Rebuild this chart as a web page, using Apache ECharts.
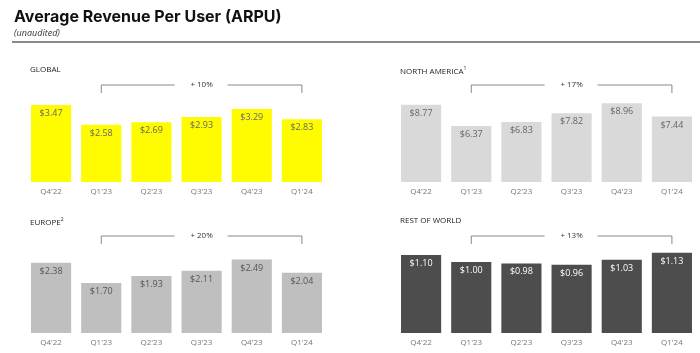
<!DOCTYPE html>
<html>
<head>
<meta charset="utf-8">
<script src="https://cdn.jsdelivr.net/npm/echarts@6/dist/echarts.min.js"></script>
<style>
  html, body { margin: 0; padding: 0; background: #fff; }
  #main { width: 700px; height: 353px; }
</style>
</head>
<body>
<div id="main"></div>
<script>
var quarters = ["Q4'22", "Q1'23", "Q2'23", "Q3'23", "Q4'23", "Q1'24"]

var globalArpu = [3.47, 2.58, 2.69, 2.93, 3.29, 2.83]
var northAmericaArpu = [8.77, 6.37, 6.83, 7.82, 8.96, 7.44]
var europeArpu = [2.38, 1.70, 1.93, 2.11, 2.49, 2.04]
var restOfWorldArpu = [1.10, 1.00, 0.98, 0.96, 1.03, 1.13]

// growth Q1'23 -> Q1'24
var growth = ['+ 10%', '+ 17%', '+ 20%', '+ 13%']

var font = "'Open Sans', sans-serif"

var panels = [
  {name: 'GLOBAL', sup: '', data: globalArpu, color: '#fffc00', label: '#666', max: 4.37, left: 26, top: 85},
  {name: 'NORTH AMERICA', sup: '1', data: northAmericaArpu, color: '#d9d9d9', label: '#666', max: 11.02, left: 396, top: 85},
  {name: 'EUROPE', sup: '2', data: europeArpu, color: '#bfbfbf', label: '#555', max: 3.29, left: 26, top: 236},
  {name: 'REST OF WORLD', sup: '', data: restOfWorldArpu, color: '#4d4d4d', label: '#fff', max: 1.366, left: 396, top: 236}
]

var grids = [], xAxes = [], yAxes = [], series = [], graphics = []

panels.forEach(function (p, i) {
  grids.push({left: p.left, top: p.top, width: 301, height: 97})
  xAxes.push({
    type: 'category', gridIndex: i, data: quarters,
    axisLine: {show: false}, axisTick: {show: false},
    axisLabel: {color: '#777', fontSize: 8, fontFamily: font, margin: 6}
  })
  yAxes.push({type: 'value', gridIndex: i, min: 0, max: p.max, show: false, splitLine: {show: false}})
  series.push({
    type: 'bar', xAxisIndex: i, yAxisIndex: i, data: p.data,
    barCategoryGap: '20%',
    itemStyle: {color: p.color},
    label: {
      show: true, position: 'insideTop', distance: 4,
      color: p.label, fontSize: 9, fontFamily: font,
      formatter: function (v) { return '$' + v.value.toFixed(2) }
    },
    silent: true
  })
  // bracket from Q1'23 to Q1'24
  series.push({
    type: 'custom', xAxisIndex: i, yAxisIndex: i,
    data: [[1, 5, growth[i]]],
    silent: true,
    renderItem: function (params, api) {
      var x1 = api.coord([api.value(0), 0])[0]
      var x2 = api.coord([api.value(1), 0])[0]
      var y = params.coordSys.y
      var mid = (x1 + x2) / 2
      var st = {stroke: '#888', lineWidth: 1, fill: null}
      return {
        type: 'group',
        children: [
          {type: 'polyline', shape: {points: [[x1, y + 8], [x1, y], [mid - 27, y]]}, style: st},
          {type: 'polyline', shape: {points: [[mid + 26, y], [x2, y], [x2, y + 8]]}, style: st},
          {type: 'text', style: {x: mid, y: y, text: growth[params.seriesIndex >> 1], align: 'center', verticalAlign: 'middle',
            fill: '#333', fontSize: 8, fontFamily: font}}
        ]
      }
    }
  })
  graphics.push({
    type: 'text', left: p.left + 4, top: p.top - 19,
    style: {
      text: '{n|' + p.name + '}' + (p.sup ? '{s|' + p.sup + '}' : ''),
      rich: {
        n: {fontSize: 8, fill: '#222', fontFamily: font},
        s: {fontSize: 5, fill: '#222', fontFamily: font, verticalAlign: 'top', padding: [0, 0, 6, 0]}
      }
    }
  })
})

graphics.push(
  {type: 'text', left: 14, top: 9, style: {text: 'Average Revenue Per User (ARPU)', fill: '#111', fontSize: 16, fontWeight: 'bold', fontFamily: 'Inter, sans-serif'}},
  {type: 'text', left: 14, top: 29, style: {text: '(unaudited)', fill: '#333', fontSize: 9, fontStyle: 'italic', fontFamily: font}},
  {type: 'rect', shape: {x: 12, y: 41, width: 688, height: 2}, style: {fill: '#8a8a8a'}}
)

var chart = echarts.init(document.getElementById('main'))
chart.setOption({
  animation: false,
  backgroundColor: '#fff',
  grid: grids,
  xAxis: xAxes,
  yAxis: yAxes,
  series: series,
  graphic: graphics
})
</script>
</body>
</html>
